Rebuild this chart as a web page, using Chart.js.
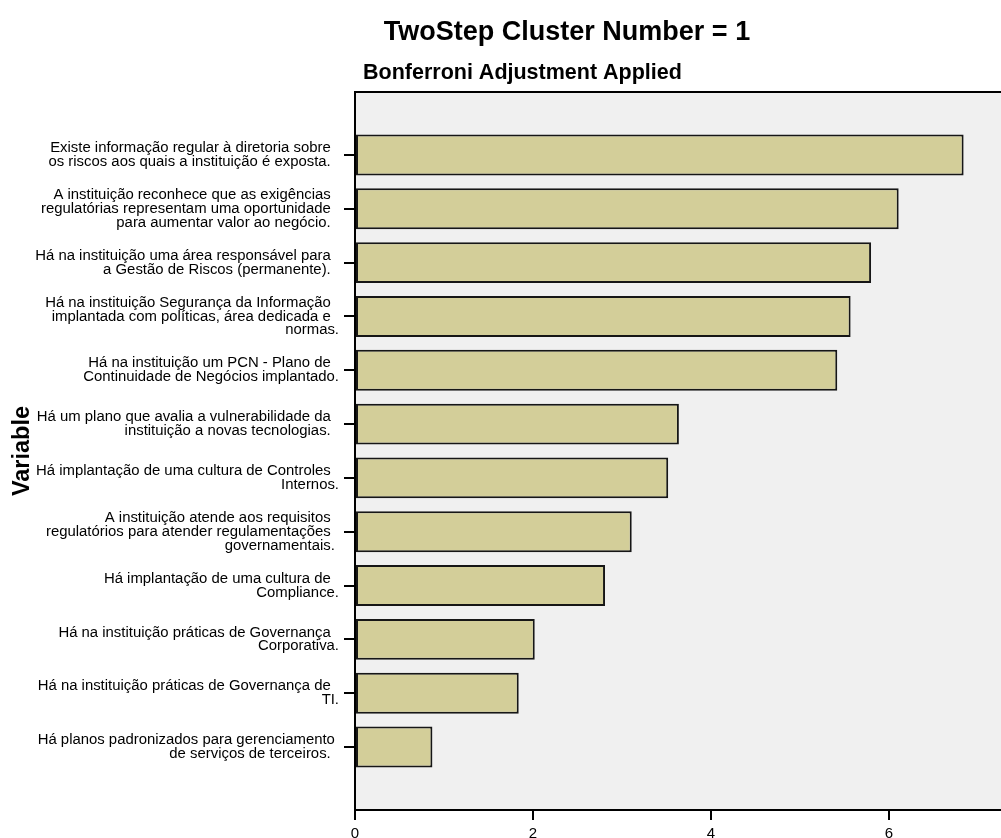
<!DOCTYPE html>
<html>
<head>
<meta charset="utf-8">
<title>TwoStep Cluster Number = 1</title>
<script src="https://cdn.jsdelivr.net/npm/chart.js"></script>
<style>
  html, body { margin: 0; padding: 0; background: #fff; overflow: hidden; }
  #wrap { width: 1001px; height: 838px; position: relative; }
</style>
</head>
<body>
<div id="wrap"><canvas id="clusterChart"></canvas></div>
<script>
// --- Data: ---
const chartTitle = 'TwoStep Cluster Number = 1';
const chartSubtitle = 'Bonferroni Adjustment Applied';
const axisTitle = 'Variable';

// one entry per bar, top to bottom (lines as they wrap in the picture)
const variableLabels = [
  ['Existe informação regular à diretoria sobre  ', 'os riscos aos quais a instituição é exposta.  '],
  ['A instituição reconhece que as exigências  ', 'regulatórias representam uma oportunidade  ', 'para aumentar valor ao negócio.  '],
  ['Há na instituição uma área responsável para  ', 'a Gestão de Riscos (permanente).  '],
  ['Há na instituição Segurança da Informação  ', 'implantada com políticas, área dedicada e  ', 'normas.'],
  ['Há na instituição um PCN - Plano de  ', 'Continuidade de Negócios implantado.'],
  ['Há um plano que avalia a vulnerabilidade da  ', 'instituição a novas tecnologias.  '],
  ['Há implantação de uma cultura de Controles  ', 'Internos.'],
  ['A instituição atende aos requisitos  ', 'regulatórios para atender regulamentações  ', 'governamentais. '],
  ['Há implantação de uma cultura de  ', 'Compliance.'],
  ['Há na instituição práticas de Governança  ', 'Corporativa.'],
  ['Há na instituição práticas de Governança de  ', 'TI.'],
  ['Há planos padronizados para gerenciamento ', 'de serviços de terceiros.  ']
];
const importanceValues = [6.84, 6.11, 5.80, 5.57, 5.42, 3.64, 3.52, 3.11, 2.81, 2.02, 1.84, 0.87];
const xTickValues = [0, 2, 4, 6];
const xMax = 7.26;

const fontFamily = 'Arial, "Liberation Sans", Helvetica, sans-serif';
Chart.defaults.color = '#000';
Chart.defaults.font.family = fontFamily;

// gray plot box, its top edge and the two headings
const plotFrame = {
    id: 'plotFrame',
    beforeDraw(chart) {
        const {ctx, chartArea: a} = chart;
        ctx.save();
        ctx.fillStyle = '#f0f0f0';
        ctx.fillRect(a.left, a.top, a.right - a.left, a.bottom - a.top);
        ctx.restore();
    },
    afterDraw(chart) {
        const {ctx, chartArea: a} = chart;
        ctx.save();
        ctx.strokeStyle = '#000';
        ctx.lineWidth = 2;
        ctx.beginPath();
        ctx.moveTo(a.left - 1, a.top);
        ctx.lineTo(a.right, a.top);
        ctx.stroke();

        ctx.fillStyle = '#000';
        ctx.textBaseline = 'middle';
        ctx.font = 'bold 27px ' + fontFamily;
        ctx.textAlign = 'center';
        ctx.fillText(chartTitle, 567, 33);
        ctx.font = 'bold 21.5px ' + fontFamily;
        ctx.textAlign = 'left';
        ctx.fillText(chartSubtitle, 363, 73);
        ctx.restore();
    }
};

const createClusterChart = () => {
    const ctx = document.querySelector('#clusterChart').getContext('2d');
    new Chart(ctx, {
        type: 'bar',
        data: {
            datasets: [
                {
                    label: chartSubtitle,
                    data: importanceValues.map((v, i) => ({x: v, y: i})),
                    backgroundColor: '#d3ce99',
                    borderColor: '#161616',
                    borderWidth: 2,
                    borderSkipped: false,
                    categoryPercentage: 1,
                    barPercentage: 0.76
                }
            ]
        },
        options: {
            indexAxis: 'y',
            responsive: true,
            maintainAspectRatio: false,
            animation: false,
            layout: { padding: { top: 92, left: 0, right: 0, bottom: 0 } },
            plugins: {
                legend: { display: false },
                tooltip: { enabled: false }
            },
            scales: {
                x: {
                    type: 'linear',
                    position: 'bottom',
                    min: 0,
                    max: xMax,
                    afterBuildTicks: axis => { axis.ticks = xTickValues.map(v => ({value: v})); },
                    afterFit: axis => { axis.height = 28; },
                    grid: { drawOnChartArea: false, color: '#000', lineWidth: 2, tickLength: 10 },
                    border: { display: true, color: '#000', width: 2 },
                    ticks: { autoSkip: false, maxRotation: 0, padding: 5, font: { size: 15 } }
                },
                y: {
                    type: 'linear',
                    reverse: true,
                    offset: false,
                    min: -1.17,
                    max: 12.17,
                    afterBuildTicks: axis => { axis.ticks = variableLabels.map((_, i) => ({value: i})); },
                    afterFit: axis => { axis.width = 355; },
                    grid: { offset: false, drawOnChartArea: false, color: '#000', lineWidth: 2, tickLength: 11 },
                    border: { display: true, color: '#000', width: 2 },
                    ticks: {
                        autoSkip: false,
                        padding: 5,
                        font: { size: 14.9, lineHeight: 0.93 },
                        callback: value => variableLabels[value]
                    },
                    title: {
                        display: true,
                        text: axisTitle,
                        padding: { top: 8, bottom: 0 },
                        font: { size: 23.5, weight: 'bold' }
                    }
                }
            }
        },
        plugins: [plotFrame]
    });
};

createClusterChart();
</script>
</body>
</html>
